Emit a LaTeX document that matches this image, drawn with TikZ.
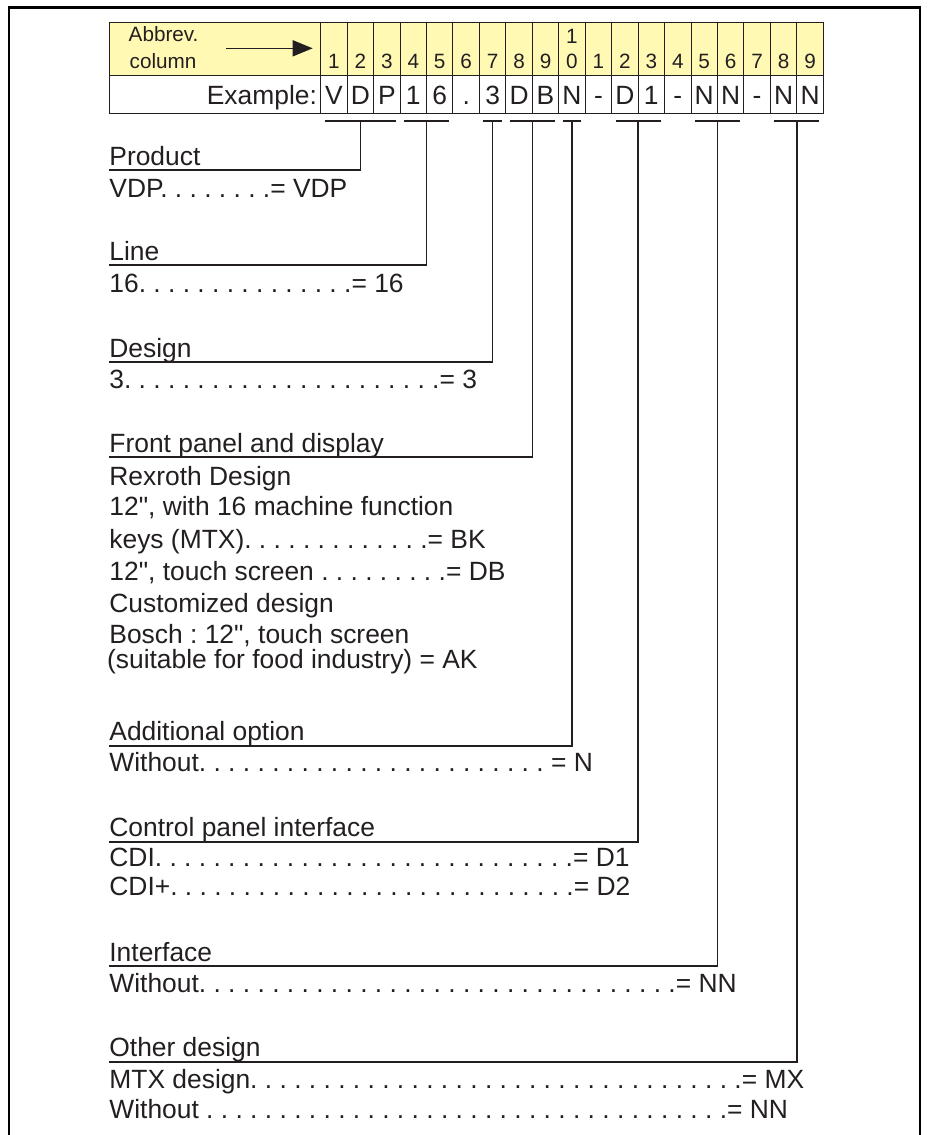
\documentclass[tikz,border=0pt]{standalone}
\usepackage{fontspec}
\setmainfont{Liberation Sans}[Ligatures=TeXOff]
\usetikzlibrary{arrows.meta}
\frenchspacing

\definecolor{headyellow}{RGB}{255,249,180}
\definecolor{inkgray}{RGB}{35,31,32}
\newcommand{\dotrun}[1]{\foreach \k in {2,...,#1}{.\ }.}
\def\cx{320.7}
\def\cw{26.45}

\begin{document}
\begin{tikzpicture}[x=0.5pt, y=-0.5pt, >={Triangle[length=10pt,width=8pt]},
    txt/.style={anchor=base west, inner sep=0pt, text=inkgray, font=\fontsize{13.2}{16}\selectfont},
    small/.style={anchor=base, inner sep=0pt, text=inkgray, font=\fontsize{10.35}{12}\selectfont},
    lead/.style={draw=inkgray, line width=0.8pt},
    cell/.style={draw=inkgray, line width=0.5pt}]

    % Page size and outer frame (open at the bottom)
    \useasboundingbox (0,0) rectangle (929,1135);
    \draw[line width=1.25pt] (9,1135) -- (9,7.5) -- (920,7.5) -- (920,1135);

    % Code table
    \fill[headyellow] (109,22.5) rectangle ({\cx+19*\cw},75.5);
    \draw[cell] (109,22.5) rectangle ({\cx+19*\cw},113.3);
    \draw[cell] (109,75.5) -- ({\cx+19*\cw},75.5);
    \foreach \k in {0,...,18}
        \draw[cell] ({\cx+\k*\cw},22.5) -- ({\cx+\k*\cw},113.3);

    % Header text and arrow
    \node[small, anchor=base west] (abbr) at (128.3,41.7) {Abbrev.};
    \node[small, anchor=base west] (colm) at (129.3,68.3) {column};
    \coordinate (arrs) at (226,48.3);
    \coordinate (arre) at (312.7,48.3);
    \draw[->, draw=inkgray, fill=inkgray, line width=0.75pt] (arrs) -- (arre);

    % Column numbers
    \foreach \d [count=\i] in {1,2,3,4,5,6,7,8,9,0,1,2,3,4,5,6,7,8,9}
        \node[small] (top\i) at ({\cx+\cw*(\i-0.5)},68.3) {\d};
    \node[small] (top10a) at ({\cx+\cw*9.5},43.3) {1};

    % Example row
    \node[txt, anchor=base east] (exlab) at (317.3,104) {Example:};
    \foreach \c [count=\i] in {V,D,P,1,6,.,3,D,B,N,-,D,1,-,N,N,-,N,N}
        \node[txt, anchor=base] (ex\i) at ({\cx+\cw*(\i-0.5)},104) {\c};

    % Headings
    \foreach \t/\y [count=\n] in {Product/165, Line/260, Design/357,
        Front panel and display/452, Additional option/740.7,
        Control panel interface/836.7, Interface/961, Other design/1056.7}
        \node[txt] (h\n) at (109,\y) {\t};

    % Brackets under the code and leads to the headings
    \foreach \a/\b [count=\n] in {1/3, 4/5, 7/7, 8/9, 10/10, 12/13, 15/16, 18/19} {
        \coordinate (b\n) at ({\cx+\cw*(\a+\b-1)/2},120.7);
        \draw[lead] ({\cx+\cw*(\a-1)+4},120.7) -- ({\cx+\cw*\b-4},120.7);
        \draw[lead] (b\n) |- ([yshift=-2.5pt]h\n.base west);
    }

    % Values
    \node[txt] (v1) at (109,197) {VDP\dotrun{8}= VDP};
    \node[txt] (v2) at (109,292.5) {16\dotrun{15}= 16};
    \node[txt] (v3) at (109,388) {3\dotrun{22}= 3};
    \node[txt] (v4a) at (109,485) {Rexroth Design};
    \node[txt] (v4b) at (109,515) {12", with 16 machine function};
    \node[txt] (v4c) at (109,548) {keys (MTX)\dotrun{13}= BK};
    \node[txt] (v4d) at (109,580) {12", touch screen \dotrun{9}= DB};
    \node[txt] (v4e) at (109,612) {Customized design};
    \node[txt] (v4f) at (109,643) {Bosch : 12", touch screen};
    \node[txt] (v4g) at (106.7,668) {(suitable for food industry) = AK};
    \node[txt] (v5) at (109,771.7) {Without\dotrun{24} = N};
    \node[txt] (v6a) at (109,866.7) {CDI\dotrun{29}= D1};
    \node[txt] (v6b) at (109,895) {CDI+\dotrun{28}= D2};
    \node[txt] (v7) at (109,992) {Without\dotrun{33}= NN};
    \node[txt] (v8a) at (109,1088) {MTX design\dotrun{34}= MX};
    \node[txt] (v8b) at (109,1118) {Without \dotrun{36}= NN};

\end{tikzpicture}
\end{document}
